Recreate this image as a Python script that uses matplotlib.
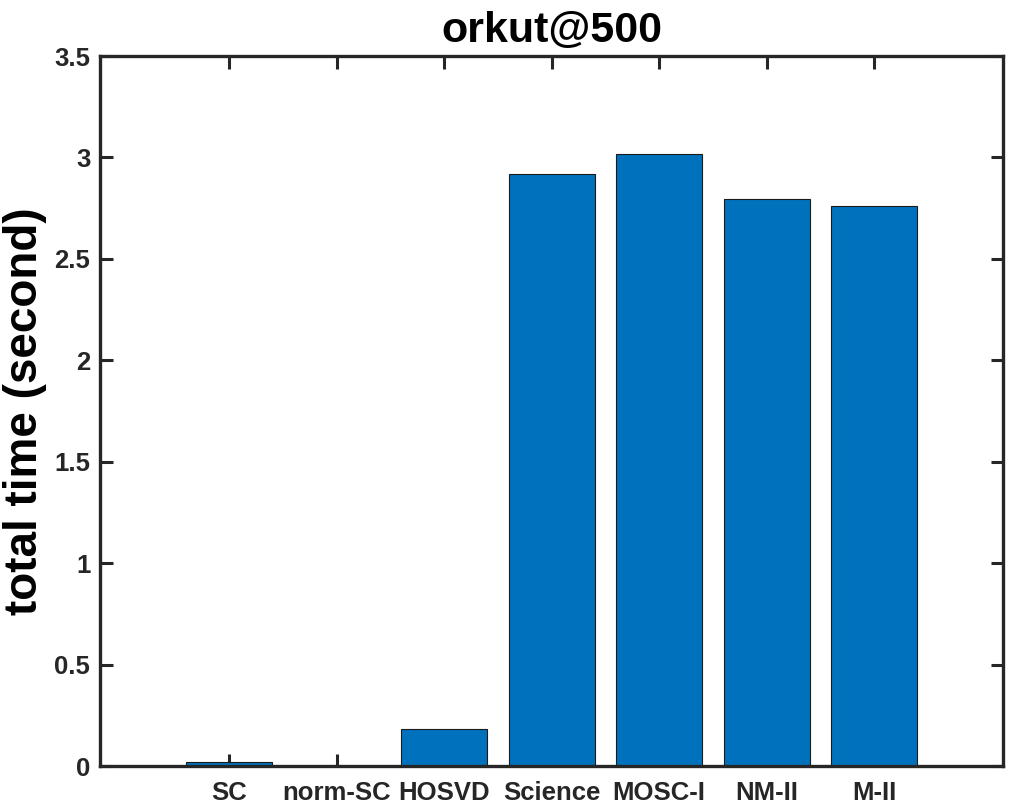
import matplotlib
matplotlib.use("Agg")
import matplotlib.pyplot as plt
import numpy as np

categories = ["SC", "norm-SC", "HOSVD", "Science", "MOSC-I", "NM-II", "M-II"]
times = [0.018, 0.002, 0.183, 2.917, 3.015, 2.793, 2.760]
yticks = [0, 0.5, 1, 1.5, 2, 2.5, 3, 3.5]
ytick_labels = ["0", "0.5", "1", "1.5", "2", "2.5", "3", "3.5"]

plt.rcParams['font.family'] = ['Liberation Sans', 'DejaVu Sans']
plt.rcParams['font.weight'] = 'bold'

fig = plt.figure(figsize=(10.09, 8.05), dpi=100)
ax = fig.add_axes([100/1009, 39/805, 903/1009, 710/805])

x = np.arange(1, len(categories) + 1)
ax.bar(x, times, width=0.8, color="#0072BD", edgecolor="#1a1a1a", linewidth=0.8, zorder=2)

ax.set_xlim(-0.2, 8.2)
ax.set_ylim(0, 3.5)
ax.set_xticks(x)
ax.set_xticklabels(categories, fontsize=18.5, fontweight='bold', color="#262626")
ax.set_yticks(yticks)
ax.set_yticklabels(ytick_labels, fontsize=18.5, fontweight='bold', color="#262626")
ax.tick_params(direction='in', length=9, width=2.2, color="#262626", top=True, right=True, pad=7)
ax.tick_params(axis='x', pad=11)
for s in ax.spines.values():
    s.set_linewidth(2.4)
    s.set_color("#262626")
    s.set_zorder(3)

ax.set_title("orkut@500", fontsize=31, fontweight='bold', pad=10)
ax.set_ylabel("total time (second)", fontsize=33, fontweight='bold', va='center')
ax.yaxis.set_label_coords(-0.083, 0.5)

fig.savefig("out.png", dpi=100)
